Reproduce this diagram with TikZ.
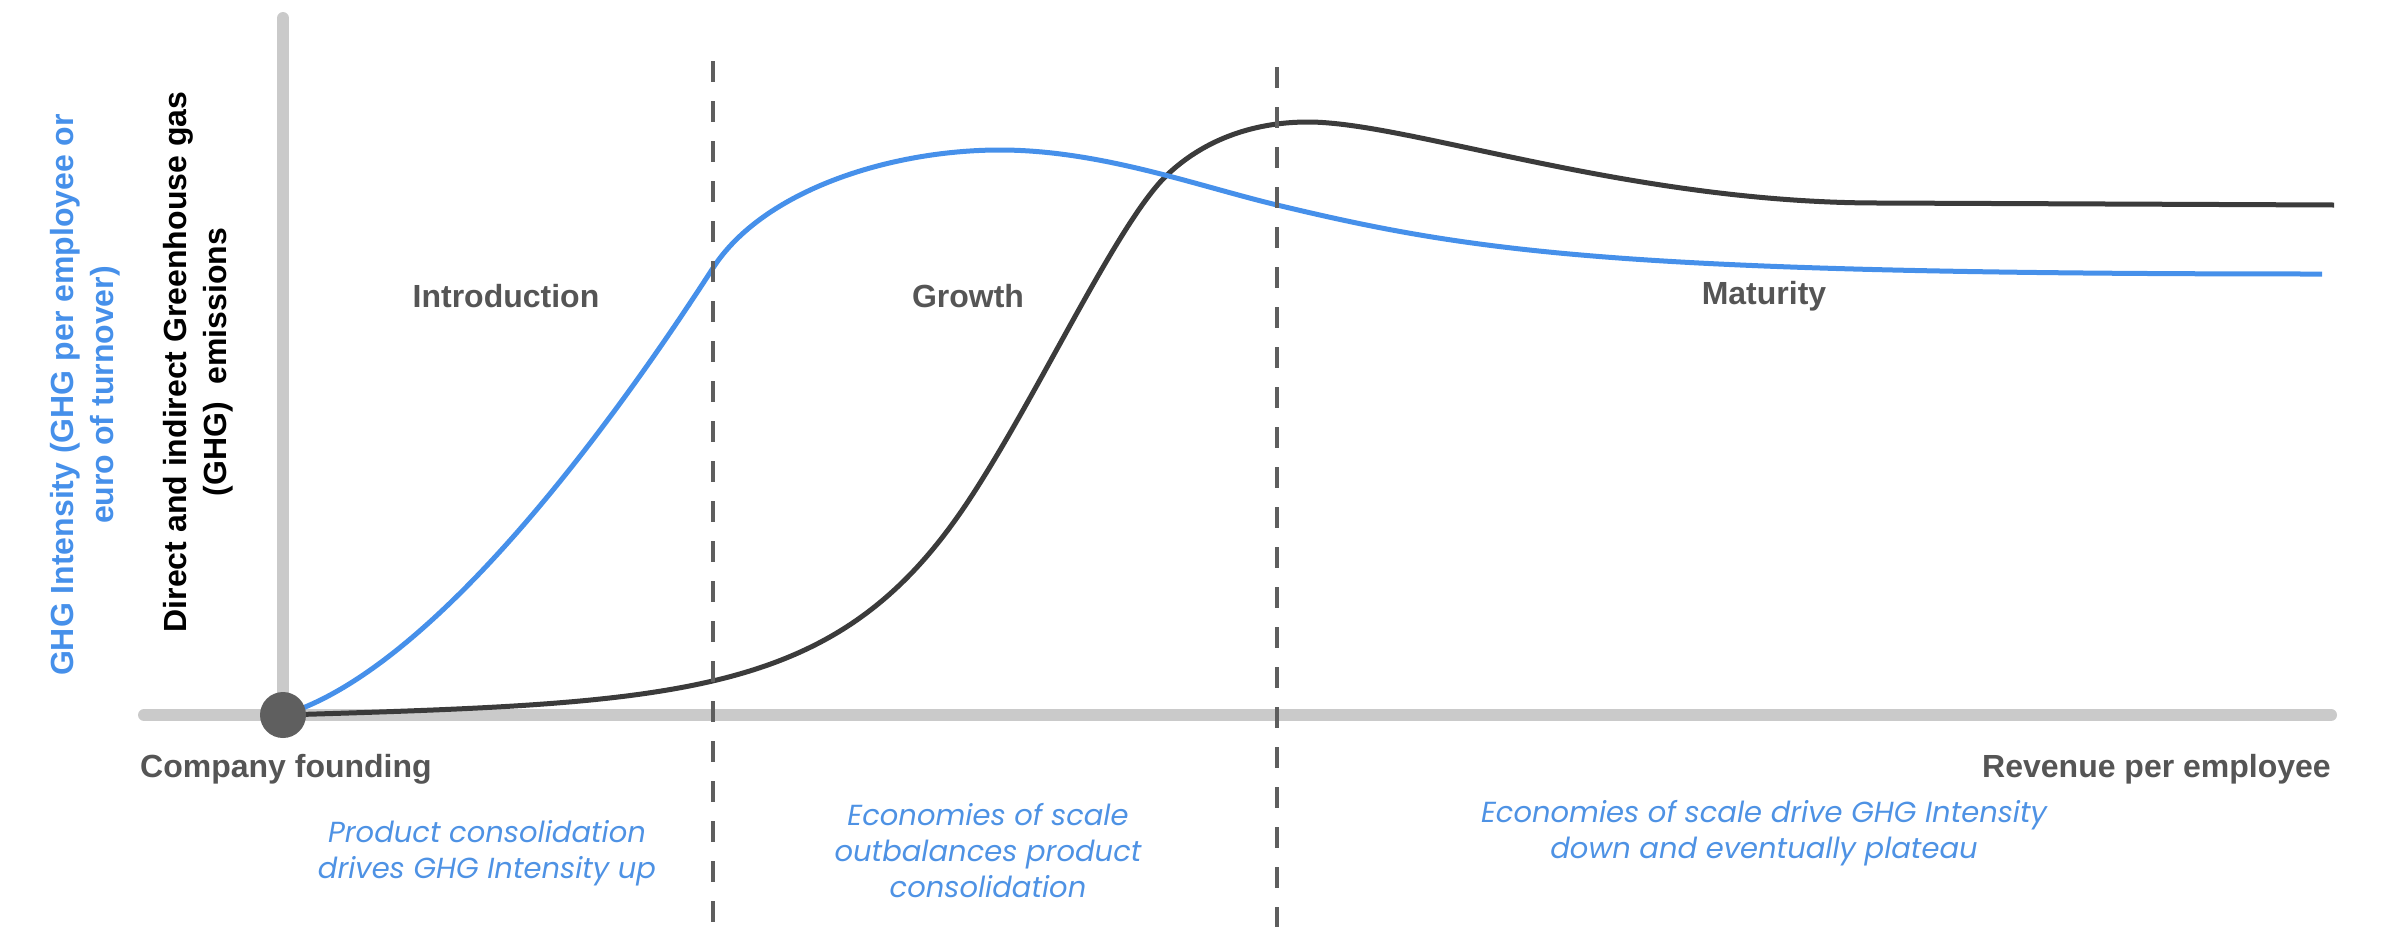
\documentclass[tikz,border=0pt]{standalone}
\usepackage{fontspec}
\setmainfont{Liberation Sans}
\newfontfamily\notefont{Poppins}
\definecolor{axisgray}{HTML}{CACACA}
\definecolor{dashgray}{HTML}{5E5E5E}
\definecolor{curveblack}{HTML}{3B3B3B}
\definecolor{curveblue}{HTML}{4690EA}
\definecolor{notblue}{HTML}{4E92E4}
\definecolor{textgray}{HTML}{555555}
\definecolor{dotgray}{HTML}{5F5F5F}
\tikzset{
  axisline/.style={line width=12pt, axisgray, line cap=round},
  phaseline/.style={line width=4.5pt, dashgray, dash pattern=on 21pt off 19pt},
  bluecurve/.style={line width=5pt, curveblue},
  blackcurve/.style={line width=5pt, curveblack},
  stage/.style={text=textgray, font=\fontsize{32}{38}\selectfont\bfseries, inner sep=0pt},
  axistext/.style={text=textgray, font=\fontsize{32}{38}\selectfont\bfseries, inner sep=0pt},
  note/.style={text=notblue, align=center, font=\notefont\itshape\fontsize{29}{36}\selectfont, inner sep=0pt},
  ylab/.style={align=center, font=\fontsize{32}{40}\selectfont\bfseries, inner sep=0pt, rotate=90},
}
\begin{document}
\begin{tikzpicture}[x=1pt,y=-1pt]
\useasboundingbox (0,0) rectangle (2384,927);
% axes
\coordinate (origin) at (283,715);
\coordinate (ytop) at (283,18);
\coordinate (xleft) at (144,715);
\coordinate (xright) at (2331,715);
\draw[axisline] (origin) -- (ytop);
\draw[axisline] (xleft) -- (xright);
% black curve: direct and indirect GHG emissions
\coordinate (bk1) at (967,503);
\coordinate (bk3) at (1167,175);
\coordinate (bkpeak) at (1308,122);
\coordinate (bk4) at (1879,203);
\coordinate (bkend) at (2334,205);
\draw[blackcurve] (origin) .. controls (683,703) and (837,698) .. (bk1)
  .. controls (1037,398) and (1117,222.5) .. (bk3)
  .. controls (1207,137) and (1258,122) .. (bkpeak)
  .. controls (1408,122) and (1629,203) .. (bk4)
  -- (bkend);
% blue curve: GHG intensity
\coordinate (bl1) at (713,268);
\coordinate (blpeak) at (1000,150);
\coordinate (bl2) at (1277,205);
\coordinate (blend) at (2322,274);
\draw[bluecurve] (origin) .. controls (433,670) and (613,423) .. (bl1)
  .. controls (763,190.5) and (890,150) .. (blpeak)
  .. controls (1100,150) and (1197,185.8) .. (bl2)
  .. controls (1477,253) and (1622,274) .. (blend);
% phase boundaries
\coordinate (d1top) at (713,61);
\coordinate (d1bot) at (713,927);
\coordinate (d2top) at (1277,67);
\coordinate (d2bot) at (1277,927);
\draw[phaseline] (d1top) -- (d1bot);
\draw[phaseline] (d2top) -- (d2bot);
% founding dot
\node[circle, fill=dotgray, minimum size=46pt, inner sep=0pt] (dot) at (origin) {};
% stage labels
\node[stage] (intro) at (506,296) {Introduction};
\node[stage] (growth) at (968,296) {Growth};
\node[stage] (maturity) at (1764,296) {Maturity};
% axis texts
\node[axistext, anchor=west] (founding) at (140,769) {Company founding};
\node[axistext, anchor=east] (revenue) at (2331,769) {Revenue per employee};
% notes
\node[note] (note1) at (487,853) {Product consolidation\\drives GHG Intensity up};
\node[note] (note2) at (988,851) {Economies of scale\\outbalances product\\consolidation};
\node[note] (note3) at (1764,833) {Economies of scale drive GHG Intensity\\down and eventually plateau};
% y labels
\node[ylab, text=curveblue] (ylabblue) at (85,395) {GHG Intensity (GHG per employee or\\euro of turnover)};
\node[ylab, text=black] (ylabblack) at (198,362) {Direct and indirect Greenhouse gas\\(GHG)~~emissions};
\end{tikzpicture}
\end{document}
